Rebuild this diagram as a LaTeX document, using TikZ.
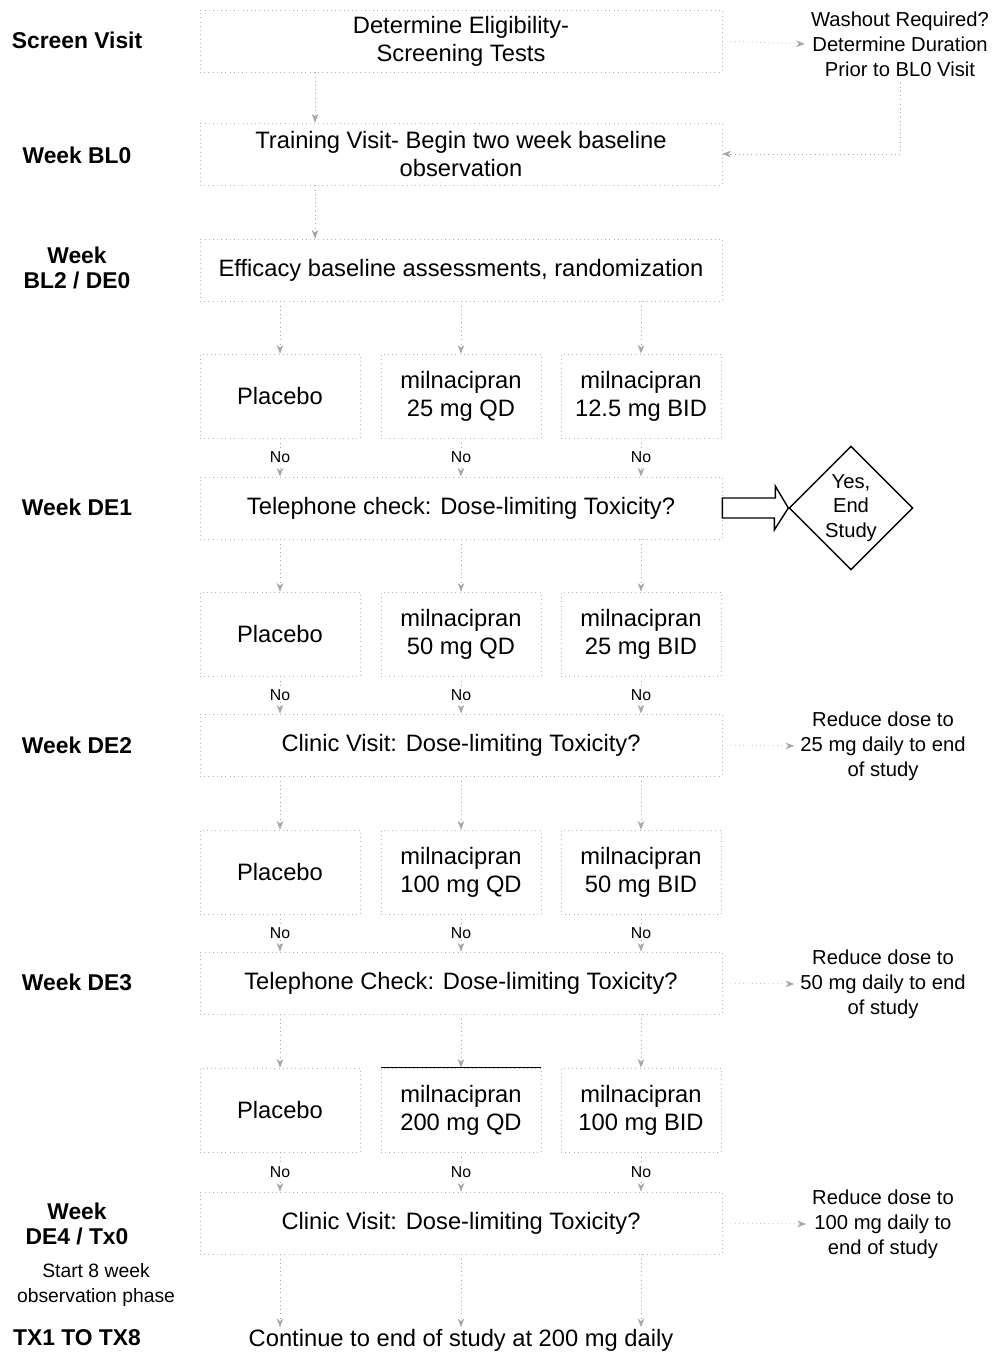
\documentclass[tikz,border=0pt]{standalone}
\usepackage{fontspec}
\setmainfont{Liberation Sans}
\usetikzlibrary{shapes.geometric,arrows.meta}

\begin{document}
\begin{tikzpicture}[x=0.02cm,y=-0.02cm,
  faint/.style={draw=black!30,dotted},
  stepbox/.style={faint,minimum width=10.44cm,minimum height=1.24cm,inner sep=0pt,align=center,font=\fontsize{13.5}{16}\selectfont},
  armbox/.style={faint,minimum width=3.2cm,minimum height=1.68cm,inner sep=0pt,align=center,font=\fontsize{13.5}{16}\selectfont},
  weeklbl/.style={align=center,font=\fontsize{13}{14.2}\selectfont\bfseries},
  sidenote/.style={align=center,font=\fontsize{11.5}{14.2}\selectfont},
  flow/.style={draw=black!35,dotted,-{Stealth[length=5pt]}},
  nolbl/.style={fill=white,inner sep=1pt,font=\fontsize{9}{10}\selectfont},
  blockarr/.style={draw,thick,fill=white}
]
\useasboundingbox (0,0) rectangle (996,1353);

\node[weeklbl] (wscreen) at (77,40) {Screen Visit};
\node[weeklbl] (wbl0) at (77,155) {Week BL0};
\node[weeklbl] (wbl2) at (77,268) {Week\\BL2 / DE0};
\node[weeklbl] (wde1) at (77,507) {Week DE1};
\node[weeklbl] (wde2) at (77,745) {Week DE2};
\node[weeklbl] (wde3) at (77,982) {Week DE3};
\node[weeklbl] (wde4) at (77,1224) {Week\\DE4 / Tx0};
\node[sidenote,font=\fontsize{11}{14.2}\selectfont] (wobs) at (96,1285) {Start 8 week\\observation phase};
\node[weeklbl] (wtx) at (77,1338) {TX1 TO TX8};

\node[stepbox] (elig) at (461,41) {Determine Eligibility-\\Screening Tests};
\node[stepbox] (train) at (461,154) {Training Visit- Begin two week baseline\\observation};
\node[stepbox] (effic) at (461,270) {Efficacy baseline assessments, randomization};
\node[stepbox] (tel1) at (461,508) {Telephone check: Dose-limiting Toxicity?};
\node[stepbox] (clin1) at (461,745) {Clinic Visit: Dose-limiting Toxicity?};
\node[stepbox] (tel2) at (461,983) {Telephone Check: Dose-limiting Toxicity?};
\node[stepbox] (clin2) at (461,1223) {Clinic Visit: Dose-limiting Toxicity?};
\node[stepbox,minimum height=0.5cm,draw=none] (cont) at (461,1340) {Continue to end of study at 200 mg daily};

\node[sidenote] (washout) at (900,44) {Washout Required?\\Determine Duration\\Prior to BL0 Visit};
\node[sidenote] (red1) at (883,746) {Reduce dose to\\25 mg daily to end\\of study};
\node[sidenote] (red2) at (883,984) {Reduce dose to\\50 mg daily to end\\of study};
\node[sidenote] (red3) at (883,1224) {Reduce dose to\\100 mg daily to\\end of study};

\node[armbox] (plc1) at (280,396) {Placebo};
\node[armbox] (qd1) at (461,396) {milnacipran\\25 mg QD};
\node[armbox] (bid1) at (641,396) {milnacipran\\12.5 mg BID};
\node[armbox] (plc2) at (280,634) {Placebo};
\node[armbox] (qd2) at (461,634) {milnacipran\\50 mg QD};
\node[armbox] (bid2) at (641,634) {milnacipran\\25 mg BID};
\node[armbox] (plc3) at (280,872) {Placebo};
\node[armbox] (qd3) at (461,872) {milnacipran\\100 mg QD};
\node[armbox] (bid3) at (641,872) {milnacipran\\50 mg BID};
\node[armbox] (plc4) at (280,1110) {Placebo};
\node[armbox] (qd4) at (461,1110) {milnacipran\\200 mg QD};
\node[armbox] (bid4) at (641,1110) {milnacipran\\100 mg BID};

\node[diamond,draw,thick,minimum width=2.48cm,minimum height=2.48cm,inner sep=0pt,align=center,font=\fontsize{11.5}{14}\selectfont] (endstudy) at (851,508) {Yes,\\End\\Study};

\draw[flow] ([xshift=-2.92cm]elig.south) -- ([xshift=-2.92cm]train.north);
\draw[flow] ([xshift=-2.92cm]train.south) -- ([xshift=-2.92cm]effic.north);
\draw[flow] (elig.east) -- (washout.west);
\draw[flow] (washout.south) |- (train.east);

\draw[flow] (effic.south -| plc1) -- (plc1.north);
\draw[flow] (effic.south -| qd1) -- (qd1.north);
\draw[flow] (effic.south -| bid1) -- (bid1.north);
\draw[flow] (plc1.south) -- (tel1.north -| plc1) node[nolbl,midway] {No};
\draw[flow] (qd1.south) -- (tel1.north -| qd1) node[nolbl,midway] {No};
\draw[flow] (bid1.south) -- (tel1.north -| bid1) node[nolbl,midway] {No};

\draw[flow] (tel1.south -| plc2) -- (plc2.north);
\draw[flow] (tel1.south -| qd2) -- (qd2.north);
\draw[flow] (tel1.south -| bid2) -- (bid2.north);
\draw[flow] (plc2.south) -- (clin1.north -| plc2) node[nolbl,midway] {No};
\draw[flow] (qd2.south) -- (clin1.north -| qd2) node[nolbl,midway] {No};
\draw[flow] (bid2.south) -- (clin1.north -| bid2) node[nolbl,midway] {No};

\draw[flow] (clin1.south -| plc3) -- (plc3.north);
\draw[flow] (clin1.south -| qd3) -- (qd3.north);
\draw[flow] (clin1.south -| bid3) -- (bid3.north);
\draw[flow] (plc3.south) -- (tel2.north -| plc3) node[nolbl,midway] {No};
\draw[flow] (qd3.south) -- (tel2.north -| qd3) node[nolbl,midway] {No};
\draw[flow] (bid3.south) -- (tel2.north -| bid3) node[nolbl,midway] {No};

\draw[flow] (tel2.south -| plc4) -- (plc4.north);
\draw[flow] (tel2.south -| qd4) -- (qd4.north);
\draw[flow] (tel2.south -| bid4) -- (bid4.north);
\draw[flow] (plc4.south) -- (clin2.north -| plc4) node[nolbl,midway] {No};
\draw[flow] (qd4.south) -- (clin2.north -| qd4) node[nolbl,midway] {No};
\draw[flow] (bid4.south) -- (clin2.north -| bid4) node[nolbl,midway] {No};

\draw[flow] (clin2.south -| plc4) -- (cont.north -| plc4);
\draw[flow] (clin2.south -| qd4) -- (cont.north -| qd4);
\draw[flow] (clin2.south -| bid4) -- (cont.north -| bid4);

\draw[flow] (clin1.east) -- (red1.west);
\draw[flow] (tel2.east) -- (red2.west);
\draw[flow] (clin2.east) -- (red3.west);

\draw (qd4.north west) -- (qd4.north east);
\draw[blockarr] ([yshift=0.2cm]tel1.east) -- ++(53,0) -- ++(0,-12) -- (endstudy.west)
  -- ++(-14,22) -- ++(0,-12) -- ([yshift=-0.2cm]tel1.east) -- cycle;
\end{tikzpicture}
\end{document}
